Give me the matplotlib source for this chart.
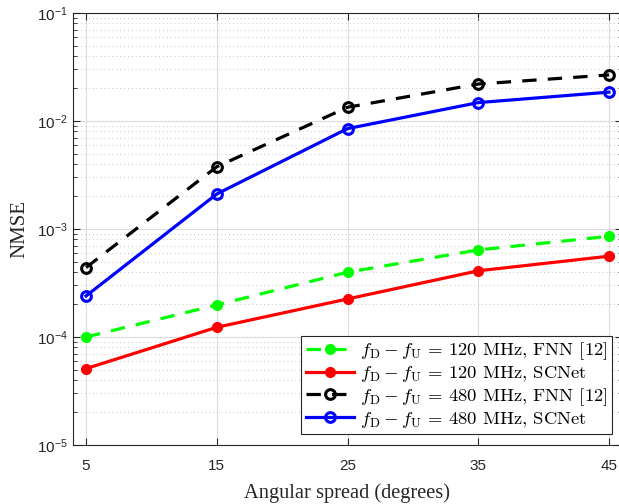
import matplotlib
matplotlib.use("Agg")
import matplotlib.pyplot as plt
from matplotlib.ticker import LogLocator, FixedLocator, NullFormatter

plt.rcParams['mathtext.fontset'] = 'custom'
plt.rcParams['mathtext.rm'] = 'Liberation Sans'
plt.rcParams['mathtext.it'] = 'Liberation Sans:italic'
plt.rcParams['mathtext.bf'] = 'Liberation Sans:bold'
plt.rcParams['font.family'] = ['Liberation Sans', 'DejaVu Sans']

angles = [5, 15, 25, 35, 45]
fnn_120 = [1.0e-4, 1.98e-4, 3.98e-4, 6.4e-4, 8.56e-4]
scnet_120 = [5.1e-5, 1.23e-4, 2.25e-4, 4.1e-4, 5.6e-4]
fnn_480 = [4.4e-4, 3.77e-3, 1.34e-2, 2.2e-2, 2.67e-2]
scnet_480 = [2.4e-4, 2.11e-3, 8.5e-3, 1.48e-2, 1.85e-2]
prefix = r'$f_{\mathrm{D}} - f_{\mathrm{U}}$ = '
labels = [prefix + '120 MHz, FNN [12]',
          prefix + '120 MHz, SCNet',
          prefix + '480 MHz, FNN [12]',
          prefix + '480 MHz, SCNet']

fig = plt.figure(figsize=(6.19, 5.04), dpi=100)
ax = fig.add_axes([73/619, 59/504, 549/619, 432/504])

lw = 2.3
ms = 7
dash = (4.5, 3.5)
ax.plot(angles, fnn_120, color='#00ff00', lw=lw, dashes=dash, marker='o', ms=ms,
        mfc='#00ff00', mec='#00ff00', label=labels[0])
ax.plot(angles, scnet_120, color='#ff0000', lw=lw, marker='o', ms=ms,
        mfc='#ff0000', mec='#ff0000', label=labels[1])
ax.plot(angles, fnn_480, color='black', lw=lw, dashes=dash, marker='o', ms=ms,
        mfc='none', mec='black', mew=2.2, label=labels[2])
ax.plot(angles, scnet_480, color='#0000ff', lw=lw, marker='o', ms=ms,
        mfc='none', mec='#0000ff', mew=2.2, label=labels[3])

ax.set_yscale('log')
ax.set_xlim(4, 46)
ax.set_ylim(1e-5, 1e-1)
ax.set_xticks(angles)
ax.set_xticklabels([str(a) for a in angles])
ax.yaxis.set_major_locator(FixedLocator([1e-5, 1e-4, 1e-3, 1e-2, 1e-1]))
ax.yaxis.set_minor_locator(LogLocator(base=10, subs=range(2, 10)))
ax.yaxis.set_minor_formatter(NullFormatter())
ax.set_yticklabels([r'$10^{-5}$', r'$10^{-4}$', r'$10^{-3}$', r'$10^{-2}$', r'$10^{-1}$'])

ax.grid(True, which='major', color='#dcdcdc', lw=0.8, ls='-')
ax.grid(True, which='minor', axis='y', color='#c8c8c8', lw=0.7, ls=(0, (1, 3)))
ax.set_axisbelow(True)

ax.tick_params(which='both', direction='in', top=True, right=True, colors='#262626',
               labelsize=11, labelcolor='#262626')
ax.tick_params(which='major', length=5)
ax.tick_params(which='minor', length=3)
ax.tick_params(axis='x', which='major', pad=10)
for s in ax.spines.values():
    s.set_color('#262626')
    s.set_linewidth(0.8)

ax.set_xlabel('Angular spread (degrees)', fontfamily='Liberation Serif', fontsize=14.7,
              color='#262626', labelpad=7.5)
ax.set_ylabel('NMSE', fontfamily='Liberation Serif', fontsize=15, color='#262626', labelpad=6)

leg = ax.legend(loc='lower right', bbox_to_anchor=(0.982, 0.025),
                prop={'family': 'cmr10', 'size': 13.4},
                frameon=True, fancybox=False, edgecolor='#262626', framealpha=1,
                handlelength=2.6, handletextpad=0.3, borderpad=0.25, labelspacing=0.1,
                borderaxespad=0)
leg.get_frame().set_linewidth(0.8)
for t in leg.get_texts():
    t.set_math_fontfamily('cm')

fig.savefig('out.png', dpi=100)
